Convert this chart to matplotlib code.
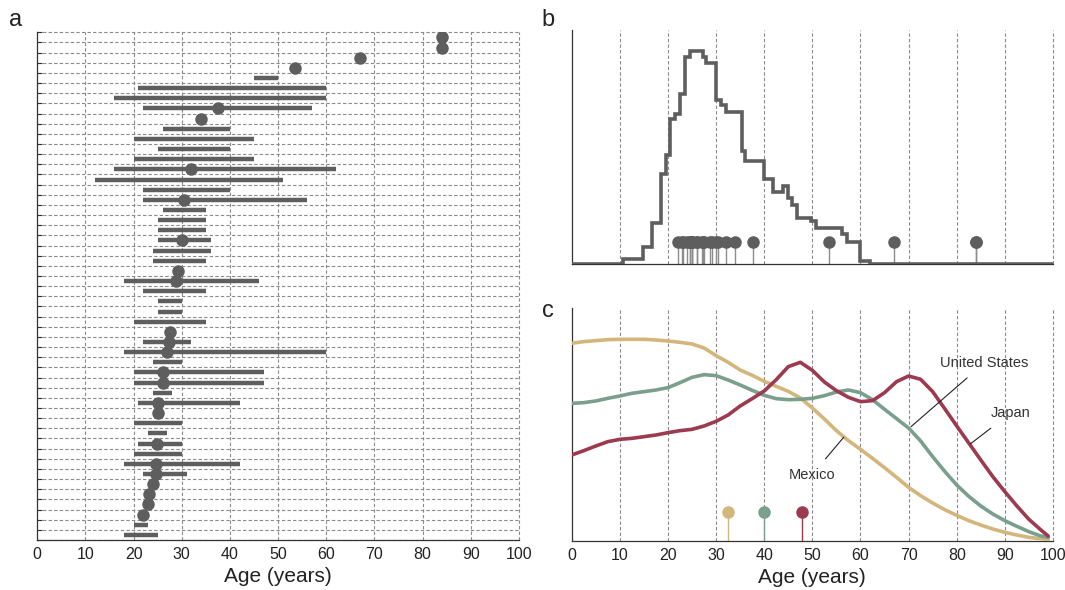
import numpy as np
import matplotlib
matplotlib.use("Agg")
import matplotlib.pyplot as plt

plt.rcParams['font.family'] = ['Liberation Sans', 'DejaVu Sans']

# ---------------- Data ----------------
# Panel a: one row per study, listed top to bottom (nan = not shown)
range_lo = [np.nan, np.nan, np.nan, np.nan, 45, 21, 16, 22, np.nan, 26,
            20, 25, 20, 16, 12, 22, 22, 26, 25, 25,
            25, 24, 24, np.nan, 18, 22, 25, 25, 20, np.nan,
            22, 18, 24, 20, 20, 24, 21, np.nan, 20, 23,
            21, 20, 18, 22, np.nan, np.nan, np.nan, np.nan, 20, 18]
range_hi = [np.nan, np.nan, np.nan, np.nan, 50, 60, 60, 57, np.nan, 40,
            45, 40, 45, 62, 51, 40, 56, 35, 35, 35,
            36, 36, 35, np.nan, 46, 35, 30, 30, 35, np.nan,
            32, 60, 30, 47, 47, 28, 42, np.nan, 30, 27,
            30, 30, 42, 31, np.nan, np.nan, np.nan, np.nan, 23, 25]
point_age = [84, 84, 67, 53.4, np.nan, np.nan, np.nan, 37.6, 34.0, np.nan,
             np.nan, np.nan, np.nan, 32.0, np.nan, np.nan, 30.5, np.nan, np.nan, np.nan,
             30.0, np.nan, np.nan, 29.2, 28.8, np.nan, np.nan, np.nan, np.nan, 27.5,
             27.3, 27.0, np.nan, 26.0, 26.0, np.nan, 25.0, 25.0, np.nan, np.nan,
             24.9, np.nan, 24.6, 24.6, 24.0, 23.2, 23.0, 22.0, np.nan, np.nan]

# Panel b: step profile (bin edges, level per bin)
hist_edges = [0, 10.7, 14.9, 16.7, 18.5, 19.6, 20.5, 21.5, 22.5, 23.5, 24.6,
              27.2, 28.0, 29.9, 31.0, 32.0, 35.3, 36.0, 40.0, 41.8, 43.8,
              45.0, 45.8, 46.8, 49.8, 50.7, 56.2, 57.1, 60.0, 62.0, 100]
hist_levels = [0, 1.0, 3.5, 8.3, 18.1, 21.9, 29.1, 30.0, 34.0, 41.5,
               42.7, 41.4, 40.2, 32.9, 31.9, 30.5, 22.7, 20.7, 17.1, 14.5,
               15.7, 13.2, 11.9, 9.3, 8.7, 7.2, 6.0, 4.5, 0.7, 0]

# Panel c: age distributions by country
ages_c = [0, 2.5, 5, 7.5, 10, 12.5, 15, 17.5, 20, 22.5, 25, 27.5, 30, 32.5, 35,
          37.5, 40, 42.5, 45, 47.5, 50, 52.5, 55, 57.5, 60, 62.5, 65, 67.5, 70,
          72.5, 75, 77.5, 80, 82.5, 85, 87.5, 90, 92.5, 95, 97.5, 99]
mexico = [5.92, 5.97, 6.00, 6.03, 6.04, 6.04, 6.04, 6.02, 5.99, 5.95, 5.90, 5.78,
          5.55, 5.35, 5.12, 4.96, 4.78, 4.63, 4.48, 4.28, 3.98, 3.65, 3.30, 3.00,
          2.74, 2.47, 2.19, 1.90, 1.60, 1.35, 1.13, 0.93, 0.76, 0.60, 0.47, 0.35,
          0.25, 0.17, 0.10, 0.06, 0.04]
usa = [4.12, 4.14, 4.19, 4.27, 4.34, 4.42, 4.47, 4.52, 4.59, 4.74, 4.90, 4.98,
       4.95, 4.82, 4.67, 4.51, 4.36, 4.26, 4.23, 4.24, 4.27, 4.35, 4.46, 4.52,
       4.44, 4.23, 3.94, 3.66, 3.38, 2.99, 2.52, 2.08, 1.67, 1.33, 1.04, 0.80,
       0.60, 0.43, 0.27, 0.14, 0.10]
japan = [2.57, 2.70, 2.84, 2.97, 3.04, 3.07, 3.12, 3.17, 3.24, 3.30, 3.34, 3.44,
         3.58, 3.77, 4.04, 4.26, 4.49, 4.83, 5.22, 5.35, 5.11, 4.76, 4.50, 4.30,
         4.17, 4.20, 4.44, 4.77, 4.94, 4.84, 4.47, 3.96, 3.44, 2.93, 2.42, 1.92,
         1.47, 1.04, 0.64, 0.32, 0.14]
countries = ["Mexico", "United States", "Japan"]
median_age = [32.4, 40.0, 47.9]

# ---------------- Styles ----------------
dark = '#5e5e5e'
grid_c = '#8a8a8a'
col_c = {'Mexico': '#d3b67c', 'United States': '#7a9f8c', 'Japan': '#9c3a50'}
ticks10 = np.arange(0, 101, 10)
tick_fs = 11.5

fig = plt.figure(figsize=(10.65, 5.90), dpi=100)

# ---------------- Panel a ----------------
axa = fig.add_axes([37.3/1065, 1-540/590, (519-37.3)/1065, (540-32.3)/590])
n = len(range_lo)
ypos = np.arange(n)[::-1] + 0.5
for y in range(0, n+1):
    axa.axhline(y, color=grid_c, lw=0.8, ls=(0, (3, 2)), zorder=0, clip_on=False)
for x in ticks10[1:]:
    axa.axvline(x, color=grid_c, lw=0.8, ls=(0, (3, 2)), zorder=0, clip_on=False)
lo = np.array(range_lo, float); hi = np.array(range_hi, float)
m = ~np.isnan(lo)
axa.hlines(ypos[m], lo[m], hi[m], color=dark, lw=3.2, zorder=2)
pa = np.array(point_age, float)
mp = ~np.isnan(pa)
axa.plot(pa[mp], ypos[mp], 'o', color=dark, ms=8, zorder=3)
axa.set_xlim(0, 100)
axa.set_ylim(0, n)
axa.set_yticks(np.arange(0, n+1))
axa.set_yticklabels([])
axa.tick_params(axis='y', direction='in', length=3.5, width=0.8, color='#333333')
axa.set_xticks(ticks10)
axa.tick_params(axis='x', length=0, pad=5, labelsize=tick_fs, labelcolor='#222222')
for s in ['top', 'right']:
    axa.spines[s].set_visible(False)
for s in ['left', 'bottom']:
    axa.spines[s].set_color('#333333')
    axa.spines[s].set_linewidth(0.9)
axa.set_xlabel('Age (years)', fontsize=15, color='#222222', labelpad=4)

# ---------------- Panel b ----------------
axb = fig.add_axes([571.7/1065, 1-264.3/590, (1053-571.7)/1065, (264.3-30)/590])
for x in ticks10[1:]:
    axb.axvline(x, color=grid_c, lw=0.8, ls=(0, (3, 2)), zorder=0, clip_on=False)
axb.stairs(hist_levels, hist_edges, color=dark, lw=2.6, baseline=None, zorder=3)
for x in pa[mp]:
    axb.plot([x, x], [0, 4.5], color='#8c8c8c', lw=1.0, zorder=2)
axb.plot(pa[mp], np.full(mp.sum(), 4.5), 'o', color=dark, ms=8, zorder=4)
axb.set_xlim(0, 100)
axb.set_ylim(0, 46.9)
axb.set_xticks([]); axb.set_yticks([])
for s in ['top', 'right']:
    axb.spines[s].set_visible(False)
for s in ['left', 'bottom']:
    axb.spines[s].set_color('#333333')
    axb.spines[s].set_linewidth(0.9)

# ---------------- Panel c ----------------
axc = fig.add_axes([571.7/1065, 1-540.7/590, (1053-571.7)/1065, (540.7-308.3)/590])
for x in ticks10[1:]:
    axc.axvline(x, color=grid_c, lw=0.8, ls=(0, (3, 2)), zorder=0, clip_on=False)
series = {'Mexico': mexico, 'United States': usa, 'Japan': japan}
for name in countries:
    axc.plot(ages_c, series[name], color=col_c[name], lw=2.6, zorder=3,
             solid_capstyle='round', solid_joinstyle='round')
for name, med in zip(countries, median_age):
    axc.plot([med, med], [0, 0.87], color=col_c[name], lw=1.0, zorder=2)
    axc.plot(med, 0.87, 'o', color=col_c[name], ms=8, zorder=4)
axc.set_xlim(0, 100)
axc.set_ylim(0, 6.97)
axc.set_yticks([])
axc.set_xticks(ticks10)
axc.tick_params(axis='x', length=0, pad=5, labelsize=tick_fs, labelcolor='#222222')
for s in ['top', 'right']:
    axc.spines[s].set_visible(False)
for s in ['left', 'bottom']:
    axc.spines[s].set_color('#333333')
    axc.spines[s].set_linewidth(0.9)
axc.set_xlabel('Age (years)', fontsize=15, color='#222222', labelpad=4)

# annotations
axc.annotate('United States', xy=(70.5, 3.42), xytext=(85.8, 5.34),
             fontsize=10.5, color='#333333', ha='center', va='center',
             arrowprops=dict(arrowstyle='-', color='#222222', lw=0.8,
                             shrinkA=6, shrinkB=0))
axc.annotate('Japan', xy=(82.8, 2.90), xytext=(91.1, 3.82),
             fontsize=10.5, color='#333333', ha='center', va='center',
             arrowprops=dict(arrowstyle='-', color='#222222', lw=0.8,
                             shrinkA=6, shrinkB=0))
axc.annotate('Mexico', xy=(56.5, 3.10), xytext=(49.9, 1.97),
             fontsize=10.5, color='#333333', ha='center', va='center',
             arrowprops=dict(arrowstyle='-', color='#222222', lw=0.8,
                             shrinkA=6, shrinkB=0))

# panel letters
fig.text(16/1065, 1-20/590, 'a', fontsize=17, color='#222222', ha='center', va='center')
fig.text(548/1065, 1-20/590, 'b', fontsize=17, color='#222222', ha='center', va='center')
fig.text(548/1065, 1-311/590, 'c', fontsize=17, color='#222222', ha='center', va='center')

fig.savefig('out.png', dpi=100)
